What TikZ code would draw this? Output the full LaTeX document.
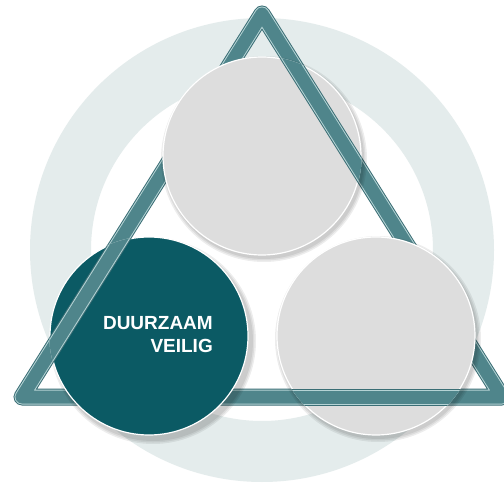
\documentclass[tikz,border=0pt]{standalone}
\usepackage{fontspec}
\newfontfamily\lsans{Liberation Sans}
\definecolor{ringc}{HTML}{E4ECEC}
\definecolor{greyc}{HTML}{DDDDDD}
\definecolor{darkc}{HTML}{0B5A64}
\definecolor{barout}{HTML}{3A6E75}
\definecolor{barlight}{HTML}{B5D3D5}
\definecolor{barfill}{HTML}{4F858B}
\tikzset{
  bigcircle/.style={circle, minimum size=198pt, inner sep=0pt, draw=white, line width=1.2pt},
  shadowc/.style={fill=black, opacity=0.07},
  barA/.style={draw=barout, line width=17pt, line join=round},
  barB/.style={draw=barlight, line width=15pt, line join=round},
  barC/.style={draw=barfill, line width=13pt, line join=round},
  label/.style={text=white, font=\lsans\bfseries\fontsize{19}{23}\selectfont, align=right, inner sep=0pt}
}
\begin{document}
\begin{tikzpicture}[x=1pt, y=-1pt]
\useasboundingbox (0,0) rectangle (504,484);
\fill[white] (0,0) rectangle (504,484);
% ring
\fill[ringc, even odd rule] (262,250) circle (232pt) (262,250) circle (171pt);
% triangle
\coordinate (A) at (262,14);
\coordinate (L) at (22,397);
\coordinate (R) at (502,397);
\path[barA] (A) -- (L) -- (R) -- cycle;
\path[barB] (A) -- (L) -- (R) -- cycle;
\path[barC] (A) -- (L) -- (R) -- cycle;
% shadows
\foreach \r in {100,101.5,103}{
  \fill[shadowc] (264,159) circle (\r pt);
  \fill[shadowc] (378,339) circle (\r pt);
  \fill[shadowc] (153,341) circle (\r pt);
}
% circles
\node[bigcircle, fill=greyc] (top) at (262,156) {};
\node[bigcircle, fill=greyc] (br) at (376,336) {};
\node[bigcircle, fill=darkc] (dark) at (149,336) {};
% weave: sides over circles
\begin{scope}
  \clip (top.center) circle (99.6pt);
  \path[barA] (A) -- (R);
  \path[barB] (A) -- (R);
  \path[barC] (A) -- (R);
\end{scope}
\begin{scope}
  \clip (br.center) circle (99.6pt);
  \path[barA] (L) -- (R);
  \path[barB] (L) -- (R);
  \path[barC] (L) -- (R);
\end{scope}
\begin{scope}
  \clip (dark.center) circle (99.6pt);
  \path[barA] (A) -- (L);
  \path[barB] (A) -- (L);
  \path[barC] (A) -- (L);
\end{scope}
\node[label, anchor=east] (txt) at (213,335) {DUURZAAM\\VEILIG};
\end{tikzpicture}
\end{document}
